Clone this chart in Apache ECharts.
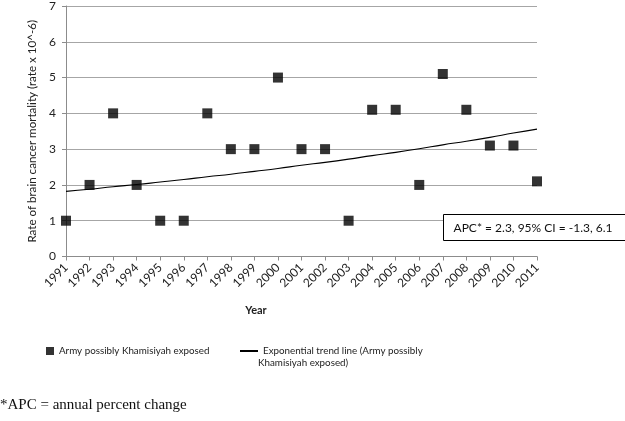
<!DOCTYPE html>
<html><head><meta charset="utf-8">
<script src="https://cdn.jsdelivr.net/npm/echarts@6/dist/echarts.min.js"></script>
<style>html,body{margin:0;padding:0;background:#fff}#c{width:625px;height:421px}</style>
</head><body><div id="c"></div>
<script>
const years = [1991,1992,1993,1994,1995,1996,1997,1998,1999,2000,2001,2002,2003,2004,2005,2006,2007,2008,2009,2010,2011];
const rates = [1,2,4,2,1,1,4,3,3,5,3,3,1,4.1,4.1,2,5.1,4.1,3.1,3.1,2.1];
const trend = [1.82,1.88,1.95,2.01,2.08,2.15,2.23,2.30,2.38,2.46,2.55,2.63,2.72,2.82,2.91,3.01,3.12,3.22,3.33,3.45,3.56];
const yTicks = [0,1,2,3,4,5,6,7];
const scatterName = 'Army possibly Khamisiyah exposed';
const trendName = 'Exponential trend line (Army possibly Khamisiyah exposed)';
const trendLegendLines = ['Exponential trend line (Army possibly', 'Khamisiyah exposed)'];
const xName = 'Year';
const yName = 'Rate of brain cancer mortality (rate x 10^-6)';
const apcText = 'APC* = 2.3, 95% CI = -1.3, 6.1';
const footnote = '*APC = annual percent change';

const font = 'Lato, "Open Sans", sans-serif';
const txt = '#222';
const chart = echarts.init(document.getElementById('c'), null, {renderer:'canvas'});
chart.setOption({
  animation:false,
  grid:{left:66,right:88,top:4.5,bottom:164.5,containLabel:false},
  xAxis:{type:'value',min:1991,max:2011,interval:1,
    axisLine:{lineStyle:{color:'#8c8c8c'}},
    axisTick:{show:true,length:4,lineStyle:{color:'#8c8c8c'}},
    axisLabel:{rotate:45,fontFamily:font,fontSize:12,color:txt,margin:9,formatter:v=>String(v)},
    splitLine:{show:false}},
  yAxis:{type:'value',min:0,max:7,interval:1,
    name:yName,nameLocation:'middle',nameGap:22,
    nameTextStyle:{fontFamily:font,fontSize:11.6,color:txt},
    axisLine:{show:true,lineStyle:{color:'#8c8c8c'}},
    axisTick:{show:true,length:4,lineStyle:{color:'#8c8c8c'}},
    axisLabel:{fontFamily:font,fontSize:12,color:txt,margin:10,formatter:v=>yTicks.includes(v)?String(v):''},
    splitLine:{lineStyle:{color:'#a6a6a6',width:1}}},
  legend:[
    {data:[scatterName],left:41,top:341,itemWidth:8,itemHeight:8,itemGap:8,
     textStyle:{fontFamily:font,fontSize:9.8,color:txt},icon:'rect'},
    {data:[trendName],left:234,top:341,itemWidth:18,itemHeight:2,itemGap:6,
     formatter:()=>trendLegendLines[0],
     textStyle:{fontFamily:font,fontSize:9.8,color:txt}}
  ],
  series:[
    {name:scatterName,type:'scatter',symbol:'rect',symbolSize:10,
     itemStyle:{color:'#000'},data:years.map((y,i)=>[y,rates[i]]),z:3},
    {name:trendName,type:'line',smooth:true,showSymbol:false,symbol:'none',
     lineStyle:{color:'#000',width:1.1},itemStyle:{color:'#000'},
     data:years.map((y,i)=>[y,trend[i]]),z:2}
  ],
  graphic:[
    {type:'rect',shape:{x:443.5,y:214.5,width:185,height:26},style:{fill:'#fff',stroke:'#000',lineWidth:1},z:10},
    {type:'text',style:{x:533,y:228,text:apcText,align:'center',verticalAlign:'middle',
        font:'12px '+font,fill:'#111'},z:11},
    {type:'text',style:{x:256,y:310,text:xName,align:'center',verticalAlign:'middle',
        font:'bold 11px '+font,fill:txt}},
    {type:'text',style:{x:258,y:363,text:trendLegendLines[1],align:'left',verticalAlign:'middle',
        font:'9.8px '+font,fill:txt}},
    {type:'text',style:{x:0,y:405,text:footnote,align:'left',verticalAlign:'middle',
        font:'15px "Liberation Serif", "Times New Roman", serif',fill:'#111'}}
  ]
});
</script></body></html>
